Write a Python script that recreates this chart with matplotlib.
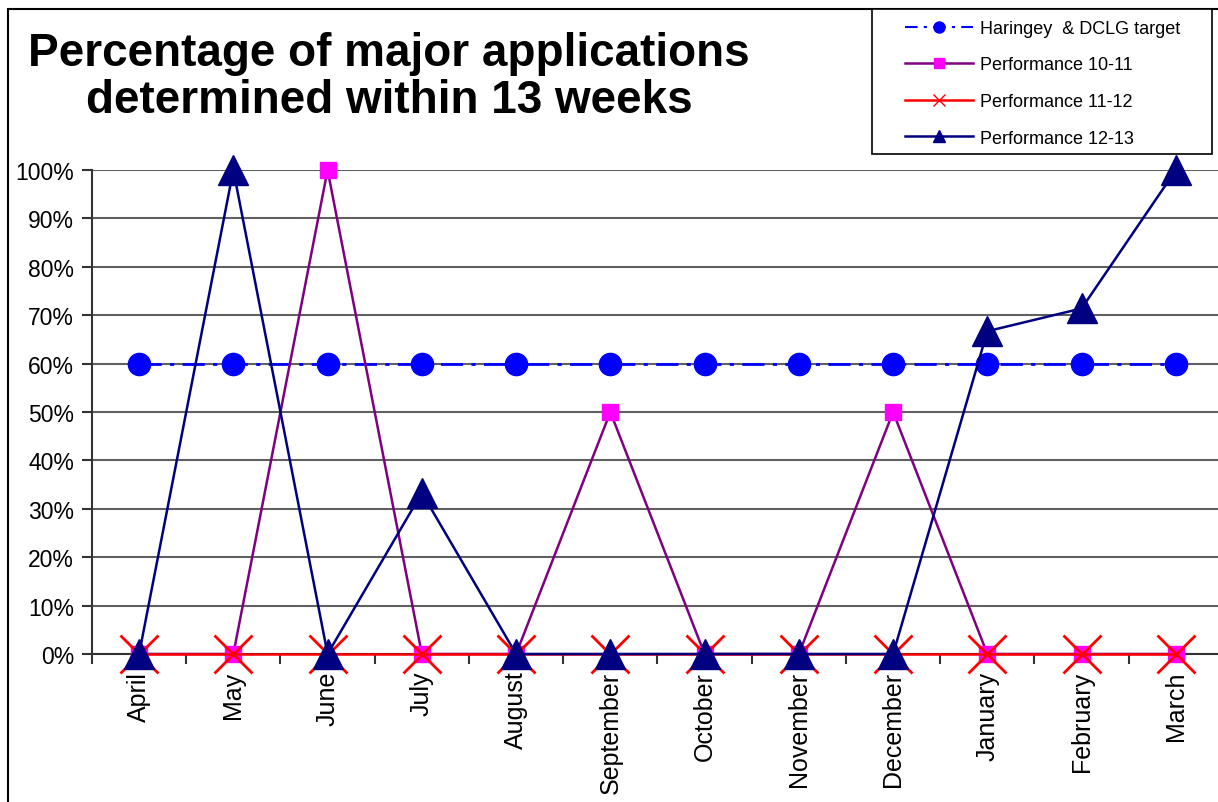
import matplotlib
matplotlib.use('Agg')
import matplotlib.pyplot as plt
from matplotlib.lines import Line2D
from matplotlib.patches import Rectangle
from matplotlib.ticker import FixedLocator, PercentFormatter

plt.rcParams['font.family'] = ['Liberation Sans', 'DejaVu Sans']

months = ['April', 'May', 'June', 'July', 'August', 'September', 'October',
          'November', 'December', 'January', 'February', 'March']
target = [60, 60, 60, 60, 60, 60, 60, 60, 60, 60, 60, 60]
perf_10_11 = [0, 0, 100, 0, 0, 50, 0, 0, 50, 0, 0, 0]
perf_11_12 = [0, 0, 0, 0, 0, 0, 0, 0, 0, 0, 0, 0]
perf_12_13 = [0, 100, 0, 33.3, 0, 0, 0, 0, 0, 66.7, 71.4, 100]
legend_labels = ['Haringey  & DCLG target', 'Performance 10-11',
                 'Performance 11-12', 'Performance 12-13']

fig = plt.figure(figsize=(12.18, 8.03), dpi=100)
ax = fig.add_axes([0.0755, 0.1843, 0.9286, 0.6027])

x = list(range(len(months)))
ax.plot(x, target, color='#0000FF', lw=2, linestyle=(0, (8, 3, 1.5, 3)),
        marker='o', ms=16, clip_on=False, zorder=3)
ax.plot(x, perf_10_11, color='#800080', lw=1.8, marker='s', ms=12,
        mfc='#FF00FF', mec='#FF00FF', clip_on=False, zorder=4)
ax.plot(x, perf_11_12, color='#FF0000', lw=1.8, marker='x', ms=27, mew=2,
        clip_on=False, zorder=5)
ax.plot(x, perf_12_13, color='#000080', lw=1.8, marker='^', ms=21,
        clip_on=False, zorder=6)

ax.set_xlim(-0.5, 11.5)
ax.set_ylim(0, 100)
ax.yaxis.set_major_locator(FixedLocator(range(0, 101, 10)))
ax.yaxis.set_major_formatter(PercentFormatter(decimals=0))
ax.grid(axis='y', color='#606060', lw=1.5)
ax.set_axisbelow(True)

ax.set_xticks(x)
ax.set_xticklabels(months, rotation=90, va='top', ha='center')
ax.set_xticks([i + 0.5 for i in range(-1, 12)], minor=True)
ax.tick_params(axis='x', which='major', length=0, pad=12, labelsize=18)
ax.tick_params(axis='x', which='minor', length=7, width=1.5, color='#333333', direction='out')
ax.tick_params(axis='y', length=7, width=1.5, color='#333333', pad=6, labelsize=16.5)

for s in ['top', 'right']:
    ax.spines[s].set_visible(False)
ax.spines['left'].set_color('#333333')
ax.spines['left'].set_linewidth(1.5)
ax.spines['bottom'].set_color('#333333')
ax.spines['bottom'].set_linewidth(1.5)

fig.text(389 / 1218, 1 - 32 / 803,
         'Percentage of major applications\ndetermined within 13 weeks',
         ha='center', va='top', fontsize=33, fontweight='bold', linespacing=1.1)

# outer chart frame
fig.patches.append(Rectangle((8 / 1218, -0.1), 1.2, 1 - 10 / 803 + 0.1,
                             transform=fig.transFigure, fill=False,
                             edgecolor='black', lw=1.5))
# legend frame
fig.patches.append(Rectangle((872 / 1218, 1 - 155 / 803), 340 / 1218, 145 / 803,
                             transform=fig.transFigure, facecolor='white',
                             edgecolor='black', lw=1.2, zorder=5))

handles = [
    Line2D([], [], color='#0000FF', lw=1.5, linestyle=(0, (6, 3, 1.5, 3)), marker='o', ms=8),
    Line2D([], [], color='#800080', lw=1.8, marker='s', ms=7, mfc='#FF00FF', mec='#FF00FF'),
    Line2D([], [], color='#FF0000', lw=1.8, marker='x', ms=8, mew=1),
    Line2D([], [], color='#000080', lw=1.8, marker='^', ms=8),
]
leg = fig.legend(handles, legend_labels, loc='upper left',
                 bbox_to_anchor=(905 / 1218, 1 - 21 / 803), fontsize=13,
                 frameon=False, handlelength=3.75, labelspacing=1.08,
                 borderpad=0, handletextpad=0.4, borderaxespad=0)
leg.set_zorder(6)

fig.savefig('out.png', dpi=100)
